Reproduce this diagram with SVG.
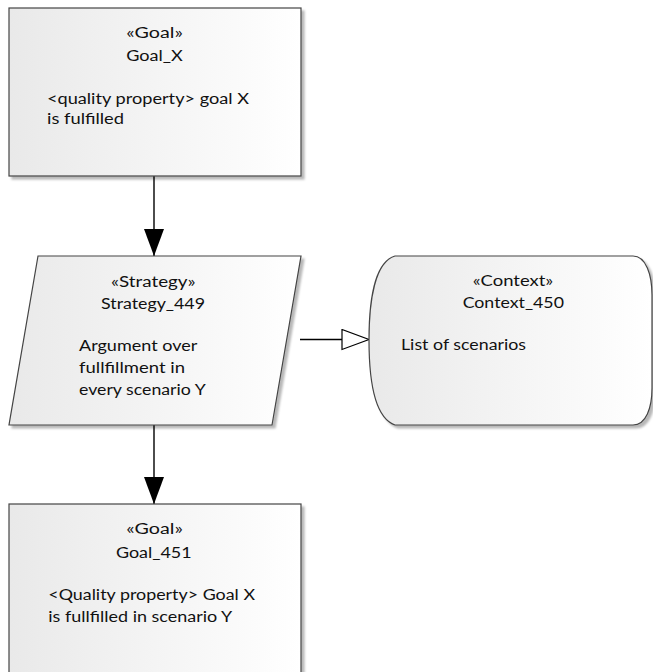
<svg xmlns="http://www.w3.org/2000/svg" width="653" height="672" viewBox="0 0 653 672">
  <defs>
    <linearGradient id="nodeFill" x1="0" y1="0" x2="1" y2="0">
      <stop offset="0" stop-color="#e9e9e9"/>
      <stop offset="1" stop-color="#ffffff"/>
    </linearGradient>
    <filter id="shadow" x="-10%" y="-10%" width="130%" height="130%">
      <feDropShadow dx="3" dy="3" stdDeviation="1.2" flood-color="#000" flood-opacity="0.28"/>
    </filter>
    <marker id="arrowSolid" viewBox="0 0 27 20" refX="27" refY="10" markerWidth="27" markerHeight="20" markerUnits="userSpaceOnUse" orient="auto">
      <path d="M0,0 L27,10 L0,20 Z" fill="#000"/>
    </marker>
    <marker id="arrowHollow" viewBox="-1 -1 29 22" refX="0" refY="10" markerWidth="29" markerHeight="22" markerUnits="userSpaceOnUse" orient="auto">
      <path d="M0,0 L27,10 L0,20 Z" fill="#fff" stroke="#000" stroke-width="1.2"/>
    </marker>
  </defs>
  <style>
    .shape { fill: url(#nodeFill); stroke: #444; stroke-width: 1.2; filter: url(#shadow); }
    .label { font-family: "Lato", "Liberation Sans", sans-serif; font-size: 14.5px; fill: #111; }
    .mid { text-anchor: middle; }
    .edge { fill: none; stroke: #000; stroke-width: 1.4; }
  </style>

  <rect width="653" height="672" fill="#fff"/>

  <!-- connectors -->
  <g id="connectors">
    <path class="edge" d="M154,176 V256" marker-end="url(#arrowSolid)"/>
    <path class="edge" d="M154,425 V504" marker-end="url(#arrowSolid)"/>
    <path class="edge" d="M300,339.5 H342" marker-end="url(#arrowHollow)"/>
  </g>

  <!-- Goal_X -->
  <g id="goal_x">
    <rect class="shape" x="9" y="8" width="292" height="168"/>
    <text class="label mid" x="154.5" y="37.7" textLength="56.7" lengthAdjust="spacingAndGlyphs">«Goal»</text>
    <text class="label mid" x="154.5" y="61" textLength="56.7" lengthAdjust="spacingAndGlyphs">Goal_X</text>
    <text class="label" x="47" y="104.3" textLength="202" lengthAdjust="spacingAndGlyphs">&lt;quality property&gt; goal X</text>
    <text class="label" x="47" y="124.3" textLength="77" lengthAdjust="spacingAndGlyphs">is fulfilled</text>
  </g>

  <!-- Strategy_449 -->
  <g id="strategy_449">
    <polygon class="shape" points="38,256 301,256 272,425 9,425"/>
    <text class="label mid" x="153.3" y="286.7" textLength="84.7" lengthAdjust="spacingAndGlyphs">«Strategy»</text>
    <text class="label mid" x="153" y="309" textLength="104" lengthAdjust="spacingAndGlyphs">Strategy_449</text>
    <text class="label" x="79" y="351" textLength="118.3" lengthAdjust="spacingAndGlyphs">Argument over</text>
    <text class="label" x="79" y="373" textLength="106" lengthAdjust="spacingAndGlyphs">fullfillment in</text>
    <text class="label" x="79" y="395.3" textLength="126.7" lengthAdjust="spacingAndGlyphs">every scenario Y</text>
  </g>

  <!-- Context_450 -->
  <g id="context_450">
    <path class="shape" d="M395,256 H633 C646,256 652,275 652,295 V388 C652,408 646,425 633,425 H395 C375,418 369,380 369,340 C369,300 375,262 395,256 Z"/>
    <text class="label mid" x="513" y="285.7" textLength="80.6" lengthAdjust="spacingAndGlyphs">«Context»</text>
    <text class="label mid" x="513.3" y="308.3" textLength="101.3" lengthAdjust="spacingAndGlyphs">Context_450</text>
    <text class="label" x="401" y="350" textLength="125" lengthAdjust="spacingAndGlyphs">List of scenarios</text>
  </g>

  <!-- Goal_451 -->
  <g id="goal_451">
    <rect class="shape" x="9" y="504" width="292" height="200"/>
    <text class="label mid" x="154.5" y="534.3" textLength="56.7" lengthAdjust="spacingAndGlyphs">«Goal»</text>
    <text class="label mid" x="153.8" y="557.7" textLength="75.7" lengthAdjust="spacingAndGlyphs">Goal_451</text>
    <text class="label" x="48.3" y="600" textLength="206.7" lengthAdjust="spacingAndGlyphs">&lt;Quality property&gt; Goal X</text>
    <text class="label" x="48.3" y="621.7" textLength="184" lengthAdjust="spacingAndGlyphs">is fullfilled in scenario Y</text>
  </g>
</svg>
